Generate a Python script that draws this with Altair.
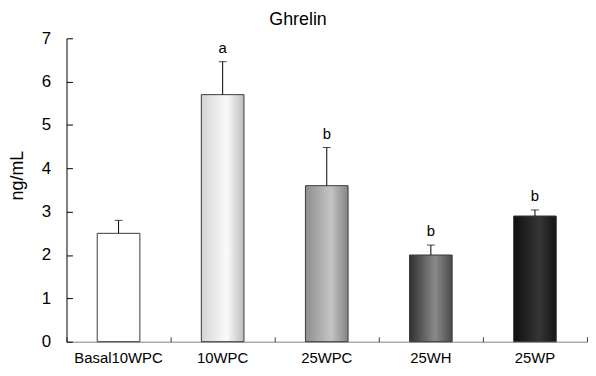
import altair as alt
import pandas as pd

categories = ["Basal10WPC", "10WPC", "25WPC", "25WH", "25WP"]
means = [2.5, 5.7, 3.6, 2.0, 2.9]
errors = [0.3, 0.76, 0.88, 0.23, 0.14]
letters = ["", "a", "b", "b", "b"]
y_ticks = [0, 1, 2, 3, 4, 5, 6, 7]

df = pd.DataFrame({"group": categories, "mean": means, "err": errors, "letter": letters})

FONT = "Liberation Sans"
W, H = 525, 306


def grad(left, mid, right):
    return {
        "gradient": "linear",
        "x1": 0, "x2": 1, "y1": 0, "y2": 0,
        "stops": [
            {"offset": 0, "color": left},
            {"offset": 0.6, "color": mid},
            {"offset": 1, "color": right},
        ],
    }


fills = {
    "Basal10WPC": "#ffffff",
    "10WPC": grad("#d4d4d4", "#fbfbfb", "#bcbcbc"),
    "25WPC": grad("#8e8e8e", "#c4c4c4", "#858585"),
    "25WH": grad("#303030", "#8a8a8a", "#4a4a4a"),
    "25WP": grad("#0e0e0e", "#353535", "#151515"),
}

xscale = alt.Scale(domain=categories, paddingInner=0, paddingOuter=0)
yscale = alt.Scale(domain=[0, 7], nice=False)

x_main = alt.X("group:N", sort=categories, scale=xscale,
               axis=alt.Axis(title=None, ticks=False, tickSize=0, labelPadding=9,
                             labelAngle=0, domainColor="#7f7f7f", labelFontSize=15,
                             labelColor="black", labelFont=FONT))
y_main = alt.Y("mean:Q", scale=yscale,
               axis=alt.Axis(title="ng/mL", values=y_ticks, ticks=False, tickSize=0,
                             labelPadding=16, titlePadding=15, grid=False, titleY=138,
                             domainColor="black", labelFontSize=17, titleFontSize=18,
                             labelColor="black", titleColor="black", titleFontWeight="normal",
                             labelFont=FONT, titleFont=FONT))
x_none = alt.X("group:N", sort=categories, scale=xscale, axis=None)
y_none = alt.Y("mean:Q", scale=yscale, axis=None)

base = alt.Chart(df)

layers = []
for i, cat in enumerate(categories):
    layers.append(
        base.transform_filter(alt.datum.group == cat)
        .mark_bar(size=43, fill=fills[cat], stroke="#3a3a3a", strokeWidth=1)
        .encode(x=x_main if i == 0 else x_none, y=y_main if i == 0 else y_none)
    )

top = base.transform_calculate(top="datum.mean + datum.err")

err_rule = top.mark_rule(color="black", strokeWidth=1).encode(
    x=x_none, y=alt.Y("top:Q", scale=yscale, axis=None), y2="mean:Q"
)
err_cap = top.mark_tick(color="black", size=8, thickness=1).encode(
    x=x_none, y=alt.Y("top:Q", scale=yscale, axis=None)
)
labels = top.mark_text(dy=-9, baseline="alphabetic", fontSize=15, font=FONT, color="black").encode(
    x=x_none, y=alt.Y("top:Q", scale=yscale, axis=None), text="letter:N"
)

inner_ticks = base.mark_point(opacity=0).encode(
    x=alt.X("group:N", sort=categories, scale=xscale,
            axis=alt.Axis(orient="top", offset=-H, labels=False, domain=False, ticks=True,
                          tickSize=5, tickBand="extent", tickColor="#404040", title=None)),
    y=alt.Y("mean:Q", scale=yscale,
            axis=alt.Axis(orient="right", offset=-W, labels=False, domain=False, ticks=True,
                          tickSize=6, values=y_ticks, tickColor="black", grid=False, title=None)),
)

chart = (
    alt.layer(*layers, err_rule, err_cap, labels, inner_ticks)
    .resolve_axis(x="independent", y="independent")
    .properties(
        width=W, height=H,
        title=alt.TitleParams("Ghrelin", fontSize=18, fontWeight="normal", font=FONT,
                              color="black", anchor="middle", frame="bounds", offset=0),
        padding={"left": 0, "top": 2, "right": 0, "bottom": 5},
        background="white",
    )
    .configure_view(stroke=None)
)

chart.save("out.html", embed_options={"renderer": "svg", "actions": False})
